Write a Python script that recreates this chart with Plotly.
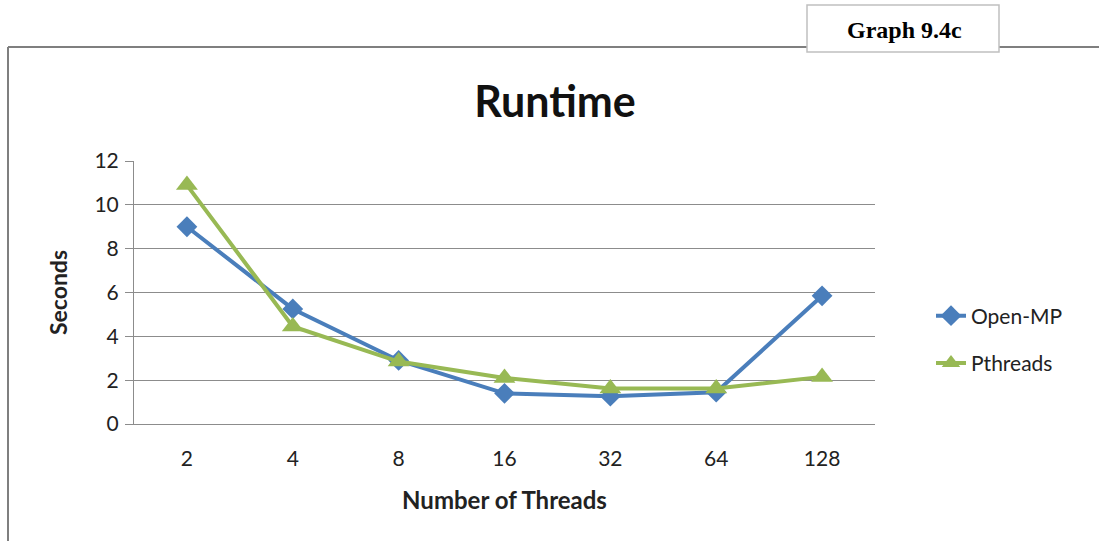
import plotly.graph_objects as go

threads = ["2", "4", "8", "16", "32", "64", "128"]
openmp = [9.0, 5.25, 2.9, 1.4, 1.27, 1.45, 5.85]
pthreads = [10.9, 4.45, 2.85, 2.1, 1.62, 1.62, 2.15]
yticks = [0, 2, 4, 6, 8, 10, 12]

W, H = 1099, 541
L, R, T, B = 134, 875, 161, 424

def px(x):
    return (x - L) / (R - L)

def py(y):
    return (B - y) / (B - T)

fig = go.Figure()
fig.add_trace(go.Scatter(
    x=threads, y=openmp, name="Open-MP", mode="lines+markers",
    line=dict(color="#4a7ebb", width=4),
    marker=dict(symbol="diamond", size=16, color="#4a7ebb"),
    legendgroup="a"))
fig.add_trace(go.Scatter(
    x=threads, y=pthreads, name="Pthreads", mode="lines+markers",
    line=dict(color="#98b954", width=4),
    marker=dict(symbol="triangle-up", size=19, color="#98b954"),
    legendgroup="b"))

font_main = "Lato, 'Open Sans', sans-serif"
grid = "#8c8c8c"

fig.update_layout(
    width=W, height=H,
    margin=dict(l=L, r=W - R, t=T, b=H - B),
    paper_bgcolor="white", plot_bgcolor="white",
    font=dict(family=font_main, size=20, color="#222"),
    title=dict(text="<b>Runtime</b>", x=px(555), xref="paper", xanchor="center",
               y=1 - 102 / H, yanchor="middle", font=dict(size=43, color="#111")),
    showlegend=True,
    legend=dict(x=px(931), y=py(316) + 0.078, xanchor="left", yanchor="top",
                traceorder="grouped", tracegroupgap=17,
                font=dict(size=21, color="#222"), bgcolor="rgba(0,0,0,0)"),
    xaxis=dict(type="category", range=[-0.5, 6.5], showgrid=False,
               showline=True, linecolor=grid, linewidth=1, ticks="",
               tickfont=dict(size=21), ticklabelstandoff=16,
               title=dict(text="<b>Number of Threads</b>", font=dict(size=24), standoff=22)),
    yaxis=dict(range=[0, 12], tickvals=yticks, showgrid=True, gridcolor=grid, gridwidth=1,
               showline=True, linecolor=grid, linewidth=1, ticks="outside", ticklen=8,
               tickcolor=grid, tickfont=dict(size=21), zeroline=False, ticklabelstandoff=2,
               title=dict(text="<b>Seconds</b>", font=dict(size=23), standoff=20)),
)

border = "#7f7f7f"
fig.add_shape(type="line", xref="paper", yref="paper",
              x0=px(8), x1=px(8), y0=py(47), y1=py(560), line=dict(color=border, width=2))
fig.add_shape(type="line", xref="paper", yref="paper",
              x0=px(8), x1=px(807), y0=py(47), y1=py(47), line=dict(color=border, width=2))
fig.add_shape(type="line", xref="paper", yref="paper",
              x0=px(999), x1=px(1110), y0=py(47), y1=py(47), line=dict(color=border, width=2))
fig.add_shape(type="rect", xref="paper", yref="paper",
              x0=px(807), x1=px(999), y0=py(52), y1=py(5),
              fillcolor="white", line=dict(color="#c0c0c0", width=1.5))
fig.add_annotation(xref="paper", yref="paper", x=px(904), y=py(30),
                   xanchor="center", yanchor="middle",
                   text="<b>Graph 9.4c</b>", showarrow=False,
                   font=dict(family="'Liberation Serif', serif", size=24, color="#000"))

fig.write_html("out.html")
